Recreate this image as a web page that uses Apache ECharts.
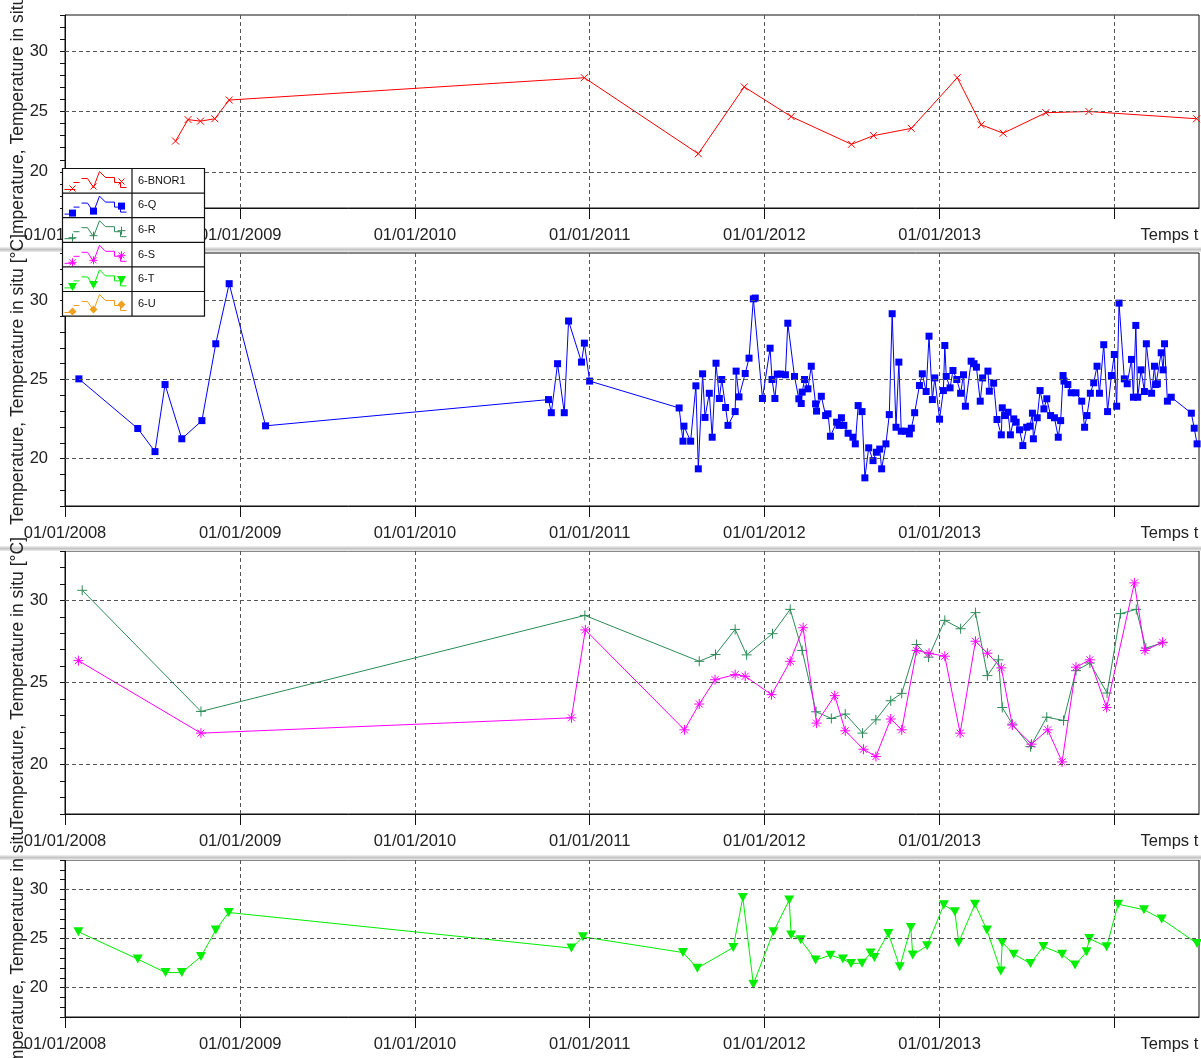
<!DOCTYPE html>
<html>
<head>
<meta charset="utf-8">
<script src="https://cdn.jsdelivr.net/npm/echarts@6/dist/echarts.min.js"></script>
<style>
html,body{margin:0;padding:0;background:#fff;}
#chart{width:1201px;height:1058px;}
</style>
</head>
<body>
<div id="chart"></div>
<script>
// ---- Data: in-situ temperature (°C) per station ----
const seriesNames = ['6-BNOR1', '6-Q', '6-R', '6-S', '6-T', '6-U'];

const xTickDates  = ['2008-01-01', '2009-01-01', '2010-01-01', '2011-01-01', '2012-01-01', '2013-01-01', '2014-01-01'];
const xLabelDates = ['2008-01-01', '2009-01-01', '2010-01-01', '2011-01-01', '2012-01-01', '2013-01-01'];
const xRange = ['2008-01-01', '2014-06-27'];
const yLabelValues = [20, 25, 30];
const yRange = [17, 33];

const bnor1 = [
  ['2008-08-19', 22.55], ['2008-09-14', 24.33], ['2008-10-10', 24.2], ['2008-11-09', 24.4], ['2008-12-09', 25.95],
  ['2010-12-21', 27.8], ['2011-08-16', 21.5], ['2011-11-20', 27.04], ['2012-02-26', 24.58], ['2012-07-01', 22.28],
  ['2012-08-16', 23.0], ['2012-11-03', 23.6], ['2013-02-07', 27.8], ['2013-03-29', 23.9], ['2013-05-14', 23.2],
  ['2013-08-11', 24.9], ['2013-11-09', 25.0], ['2014-06-22', 24.4]
];

const stationQ = [
  ['2008-01-30', 25.04], ['2008-06-01', 21.9], ['2008-07-07', 20.44], ['2008-07-28', 24.68], ['2008-09-01', 21.25],
  ['2008-10-13', 22.4], ['2008-11-11', 27.26], ['2008-12-09', 31.06], ['2009-02-23', 22.07],
  ['2010-10-07', 23.73], ['2010-10-13', 22.9], ['2010-10-26', 26.0], ['2010-11-09', 22.9], ['2010-11-18', 28.7],
  ['2010-12-15', 26.1], ['2010-12-21', 27.3], ['2011-01-01', 24.9],
  ['2011-07-07', 23.2], ['2011-07-15', 21.1], ['2011-07-17', 22.05], ['2011-07-31', 21.1], ['2011-08-11', 24.6],
  ['2011-08-16', 19.35], ['2011-08-25', 25.36], ['2011-08-30', 22.6], ['2011-09-08', 24.13], ['2011-09-14', 21.35],
  ['2011-09-22', 26.03], ['2011-09-29', 23.8], ['2011-10-04', 25.0], ['2011-10-12', 23.23], ['2011-10-17', 22.1],
  ['2011-11-01', 22.97], ['2011-11-03', 25.53], ['2011-11-09', 23.9], ['2011-11-22', 25.38], ['2011-11-30', 26.35],
  ['2011-12-09', 30.1], ['2011-12-13', 30.15], ['2011-12-28', 23.8],
  ['2012-01-13', 26.98], ['2012-01-17', 25.0], ['2012-01-23', 23.8], ['2012-01-28', 25.34], ['2012-02-04', 25.34],
  ['2012-02-14', 25.3], ['2012-02-19', 28.56], ['2012-03-04', 25.19], ['2012-03-13', 23.78], ['2012-03-18', 23.48],
  ['2012-03-20', 24.2], ['2012-03-25', 25.0], ['2012-04-01', 24.41], ['2012-04-08', 25.84], ['2012-04-17', 23.46],
  ['2012-04-19', 23.0], ['2012-04-29', 23.94], ['2012-05-08', 22.72], ['2012-05-13', 22.83], ['2012-05-18', 21.41],
  ['2012-05-31', 22.3], ['2012-06-05', 22.1], ['2012-06-10', 22.58], ['2012-06-15', 22.1], ['2012-06-24', 21.6],
  ['2012-07-04', 21.35], ['2012-07-09', 20.93], ['2012-07-15', 23.35], ['2012-07-23', 22.97], ['2012-07-29', 18.78],
  ['2012-08-06', 20.68], ['2012-08-15', 19.87], ['2012-08-22', 20.4], ['2012-08-29', 20.6], ['2012-09-02', 19.35],
  ['2012-09-11', 20.93], ['2012-09-18', 22.78], ['2012-09-24', 29.16], ['2012-10-02', 21.98], ['2012-10-08', 26.1],
  ['2012-10-13', 21.73], ['2012-10-22', 21.73], ['2012-10-30', 21.56], ['2012-11-03', 21.92], ['2012-11-10', 22.9],
  ['2012-11-20', 24.62], ['2012-11-26', 25.36], ['2012-12-04', 24.24], ['2012-12-10', 27.74], ['2012-12-17', 23.73],
  ['2012-12-22', 25.1],
  ['2013-01-01', 22.49], ['2013-01-09', 24.3], ['2013-01-12', 27.15], ['2013-01-15', 25.19], ['2013-01-23', 24.47],
  ['2013-01-29', 25.57], ['2013-02-06', 25.0], ['2013-02-14', 24.13], ['2013-02-20', 25.3], ['2013-02-24', 23.31],
  ['2013-03-08', 26.16], ['2013-03-14', 26.0], ['2013-03-19', 25.78], ['2013-03-27', 23.63], ['2013-04-01', 25.1],
  ['2013-04-12', 25.53], ['2013-04-15', 24.26], ['2013-04-24', 24.77], ['2013-05-01', 22.47], ['2013-05-10', 21.5],
  ['2013-05-12', 23.21], ['2013-05-17', 22.72], ['2013-05-24', 22.93], ['2013-05-29', 21.5], ['2013-06-05', 22.51],
  ['2013-06-10', 22.3], ['2013-06-17', 21.82], ['2013-06-24', 20.82], ['2013-07-02', 21.98], ['2013-07-09', 22.05],
  ['2013-07-14', 22.87], ['2013-07-16', 21.25], ['2013-07-24', 22.58], ['2013-07-30', 24.3], ['2013-08-07', 23.14],
  ['2013-08-13', 23.78], ['2013-08-21', 22.72], ['2013-08-29', 22.58], ['2013-09-06', 21.35], ['2013-09-11', 22.4],
  ['2013-09-16', 25.25], ['2013-09-18', 24.9], ['2013-09-26', 24.68], ['2013-10-03', 24.16], ['2013-10-13', 24.16],
  ['2013-10-25', 23.63], ['2013-10-31', 21.98], ['2013-11-05', 22.72], ['2013-11-12', 24.13], ['2013-11-19', 24.79],
  ['2013-11-26', 25.84], ['2013-12-01', 24.13], ['2013-12-10', 27.2], ['2013-12-18', 22.97], ['2013-12-26', 25.25],
  ['2014-01-01', 26.58], ['2014-01-06', 23.31], ['2014-01-11', 29.83], ['2014-01-22', 25.04], ['2014-01-28', 24.73],
  ['2014-02-06', 26.27], ['2014-02-10', 23.88], ['2014-02-15', 28.42], ['2014-02-19', 23.88], ['2014-02-26', 25.61],
  ['2014-03-05', 24.24], ['2014-03-09', 27.26], ['2014-03-20', 24.13], ['2014-03-26', 25.84], ['2014-03-29', 24.68],
  ['2014-04-01', 24.73], ['2014-04-09', 26.69], ['2014-04-13', 25.61], ['2014-04-16', 27.26], ['2014-04-22', 23.63],
  ['2014-04-30', 23.88], ['2014-06-11', 22.87], ['2014-06-17', 21.92], ['2014-06-23', 20.93]
];

const stationR = [
  ['2008-02-06', 30.61], ['2008-10-11', 23.24], ['2010-12-22', 29.08], ['2011-08-18', 26.29], ['2011-09-21', 26.7],
  ['2011-11-01', 28.23], ['2011-11-25', 26.68], ['2012-01-18', 27.97], ['2012-02-24', 29.45], ['2012-03-20', 26.95],
  ['2012-04-18', 23.22], ['2012-05-20', 22.81], ['2012-06-18', 23.08], ['2012-07-24', 21.92], ['2012-08-21', 22.73],
  ['2012-09-21', 23.89], ['2012-10-14', 24.34], ['2012-11-14', 27.31], ['2012-12-09', 26.54], ['2013-01-12', 28.78],
  ['2013-02-14', 28.27], ['2013-03-17', 29.25], ['2013-04-11', 25.42], ['2013-05-04', 26.38], ['2013-05-12', 23.48],
  ['2013-06-02', 22.47], ['2013-07-10', 21.1], ['2013-08-13', 22.89], ['2013-09-17', 22.69], ['2013-10-13', 25.72],
  ['2013-11-11', 26.19], ['2013-12-17', 24.36], ['2014-01-14', 29.19], ['2014-02-16', 29.45], ['2014-03-08', 27.09],
  ['2014-04-12', 27.42]
];

const stationS = [
  ['2008-01-29', 26.33], ['2008-10-11', 21.92], ['2010-11-24', 22.85], ['2010-12-23', 28.2], ['2011-07-18', 22.12],
  ['2011-08-18', 23.69], ['2011-09-20', 25.17], ['2011-11-01', 25.48], ['2011-11-22', 25.38], ['2012-01-16', 24.26],
  ['2012-02-24', 26.29], ['2012-03-22', 28.33], ['2012-04-19', 22.53], ['2012-05-27', 24.2], ['2012-06-18', 22.06],
  ['2012-07-26', 20.94], ['2012-08-21', 20.5], ['2012-09-21', 22.78], ['2012-10-14', 22.12], ['2012-11-14', 26.95],
  ['2012-12-10', 26.78], ['2013-01-12', 26.6], ['2013-02-13', 21.92], ['2013-03-17', 27.51], ['2013-04-11', 26.78],
  ['2013-05-10', 25.89], ['2013-06-02', 22.41], ['2013-07-12', 21.25], ['2013-08-15', 22.12], ['2013-09-14', 20.17],
  ['2013-10-13', 25.93], ['2013-11-11', 26.38], ['2013-12-16', 23.48], ['2014-02-12', 31.06], ['2014-03-06', 26.95],
  ['2014-04-12', 27.45]
];

const stationT = [
  ['2008-01-29', 25.68], ['2008-06-01', 22.9], ['2008-07-29', 21.53], ['2008-09-01', 21.53], ['2008-10-11', 23.16],
  ['2008-11-11', 25.86], ['2008-12-08', 27.65], ['2010-11-24', 24.02], ['2010-12-18', 25.17], ['2011-07-15', 23.57],
  ['2011-08-14', 21.98], ['2011-10-28', 24.08], ['2011-11-17', 29.18], ['2011-12-09', 20.35], ['2012-01-20', 25.68],
  ['2012-02-22', 28.92], ['2012-02-26', 25.35], ['2012-03-17', 24.87], ['2012-04-17', 22.8], ['2012-05-18', 23.3],
  ['2012-06-13', 22.9], ['2012-06-30', 22.45], ['2012-07-23', 22.49], ['2012-08-10', 23.51], ['2012-08-18', 23.06],
  ['2012-09-16', 25.51], ['2012-10-10', 22.11], ['2012-11-02', 26.12], ['2012-11-06', 23.31], ['2012-12-06', 24.26],
  ['2013-01-10', 28.44], ['2013-02-02', 27.72], ['2013-02-10', 24.6], ['2013-03-16', 28.5], ['2013-04-10', 25.86],
  ['2013-05-09', 21.7], ['2013-05-12', 24.6], ['2013-06-05', 23.4], ['2013-07-10', 22.45], ['2013-08-06', 24.18],
  ['2013-09-14', 23.4], ['2013-10-11', 22.29], ['2013-11-04', 23.64], ['2013-11-10', 25.0], ['2013-12-16', 24.15],
  ['2014-01-09', 28.5], ['2014-03-04', 27.93], ['2014-04-10', 26.98], ['2014-06-23', 24.49]
];

const stationU = [];

// ---- Layout ----
const FONT = "'Liberation Sans', Arial, sans-serif";
const TEXT = '#222';
const panels = [
  { top: 15,  height: 193 },
  { top: 253, height: 253 },
  { top: 551, height: 263 },
  { top: 860, height: 157 }
];
const LEFT = 65, RIGHT = 2;

// 'YYYY-MM-DD' -> local timestamp
const ts = s => { const p = s.split('-').map(Number); return new Date(p[0], p[1] - 1, p[2]).getTime(); };
const pad2 = n => (n < 10 ? '0' : '') + n;
const toPoints = arr => arr.map(d => [ts(d[0]), d[1]]);

const palette = {
  '6-BNOR1': '#ff0000',
  '6-Q': '#0000ff',
  '6-R': '#2e8b57',
  '6-S': '#ff00ff',
  '6-T': '#00ee00',
  '6-U': '#f0a020'
};

const SYM_X    = 'path://M0,0 L2,2 M2,0 L0,2';
const SYM_PLUS = 'path://M0,1 L2,1 M1,0 L1,2';
const SYM_STAR = 'path://M0,1 L2,1 M1,0 L1,2 M0.3,0.3 L1.7,1.7 M1.7,0.3 L0.3,1.7';

const grids = panels.map(p => ({
  left: LEFT, right: RIGHT, top: p.top, height: p.height,
  show: true, borderColor: '#111', borderWidth: 1, backgroundColor: 'rgba(0,0,0,0)'
}));

const xAxes = panels.map((p, i) => ({
  type: 'value', gridIndex: i,
  min: ts(xRange[0]), max: ts(xRange[1]),
  axisLine: { show: true, onZero: false, lineStyle: { color: '#111', width: 1 } },
  axisTick: { show: true, inside: false, length: 11, customValues: xTickDates.map(ts), lineStyle: { color: '#111' } },
  axisLabel: {
    show: true, customValues: xLabelDates.map(ts), margin: 19,
    fontSize: 16.5, fontFamily: FONT, color: TEXT, hideOverlap: false,
    formatter: v => { const d = new Date(v); return pad2(d.getDate()) + '/' + pad2(d.getMonth() + 1) + '/' + d.getFullYear(); }
  },
  splitLine: { show: true, lineStyle: { color: '#555', width: 1, type: [4, 3] } }
}));

const yAxes = panels.map((p, i) => ({
  type: 'value', gridIndex: i, min: yRange[0], max: yRange[1], interval: 1,
  axisLine: { show: true, onZero: false, lineStyle: { color: '#111', width: 1 } },
  axisTick: { show: true, inside: false, length: 5, lineStyle: { color: '#111' } },
  axisLabel: { show: true, customValues: yLabelValues, margin: 17, fontSize: 16.5, fontFamily: FONT, color: TEXT },
  splitLine: { show: false }
}));

function dataSeries(name, data, gridIdx, symbol, size, opts) {
  const color = palette[name];
  return Object.assign({
    name, type: 'line', data: toPoints(data),
    xAxisIndex: gridIdx, yAxisIndex: gridIdx,
    symbol, symbolSize: size, showAllSymbol: true,
    lineStyle: { color, width: 1 },
    itemStyle: { color, borderColor: color, borderWidth: 1 },
    emphasis: { disabled: true },
    z: 3
  }, opts || {});
}

// horizontal dashed reference lines at the labelled temperatures
function gridLines(gridIdx) {
  return {
    type: 'line', data: [], xAxisIndex: gridIdx, yAxisIndex: gridIdx, z: 1, silent: true,
    markLine: {
      silent: true, symbol: ['none', 'none'], label: { show: false }, animation: false,
      lineStyle: { color: '#555', width: 1, type: [4, 3] },
      emphasis: { disabled: true },
      data: yLabelValues.map(v => ({ yAxis: v }))
    }
  };
}

const series = [
  gridLines(0), gridLines(1), gridLines(2), gridLines(3),
  dataSeries('6-BNOR1', bnor1, 0, SYM_X, 7),
  dataSeries('6-Q', stationQ, 1, 'rect', 7, { itemStyle: { color: palette['6-Q'], borderWidth: 0 } }),
  dataSeries('6-R', stationR, 2, SYM_PLUS, 10),
  dataSeries('6-S', stationS, 2, SYM_STAR, 10, { z: 4 }),
  dataSeries('6-T', stationT, 3, 'triangle', [10, 9], { symbolRotate: 180, itemStyle: { color: palette['6-T'], borderWidth: 0 } }),
  dataSeries('6-U', stationU, 3, 'diamond', 8)
];

// ---- Decorations: panel separators, axis titles, legend table ----
const graphics = [];

[247, 546, 855].forEach(y => {
  graphics.push({
    type: 'rect', left: 0, top: y, z: 1,
    shape: { width: 1201, height: 5 },
    style: { fill: new echarts.graphic.LinearGradient(0, 0, 0, 1, [
      { offset: 0, color: '#f2f2f2' }, { offset: 0.5, color: '#c4c4c4' }, { offset: 1, color: '#ececec' }
    ]) }
  });
});

const NAME_FONT = '17.5px ' + FONT;
const yName = 'Temperature, Temperature in situ [°C]';
const yNameParts = [
  { text: 'mperature, Temperature in situ [°C]', x: 18, y: 234, align: 'left' },
  { text: yName, x: 18, y: (panels[1].top + panels[1].height / 2), align: 'center' },
  { text: yName, x: 18, y: (panels[2].top + panels[2].height / 2), align: 'center' },
  { text: 'Temperature, Temperature in situ', x: 18, y: 826, align: 'right' }
];
yNameParts.forEach(p => {
  graphics.push({
    type: 'text', x: p.x, y: p.y, rotation: Math.PI / 2, z: 5,
    style: { text: p.text, fill: TEXT, font: NAME_FONT, textAlign: p.align, textVerticalAlign: 'middle' }
  });
});

panels.forEach(p => {
  graphics.push({
    type: 'text', x: 1140.5, y: p.top + p.height + 27, z: 5,
    style: { text: 'Temps t', fill: TEXT, font: '16.5px ' + FONT, textAlign: 'left', textVerticalAlign: 'middle' }
  });
});

// legend table
const LEG = { x: 62.5, y: 168.5, w: 142, rowH: 24.6, split: 69.5 };
const legendMarkers = {
  '6-BNOR1': 'x', '6-Q': 'rect', '6-R': 'plus', '6-S': 'star', '6-T': 'tri', '6-U': 'diamond'
};
function markerShapes(kind, cx, cy, color) {
  const s = { stroke: color, lineWidth: 1 };
  const out = [];
  const seg = (x1, y1, x2, y2) => out.push({ type: 'line', z: 21, shape: { x1: cx + x1, y1: cy + y1, x2: cx + x2, y2: cy + y2 }, style: s });
  if (kind === 'x') { seg(-3, -3, 3, 3); seg(3, -3, -3, 3); }
  if (kind === 'plus') { seg(-4, 0, 4, 0); seg(0, -4, 0, 4); }
  if (kind === 'star') { seg(-4, 0, 4, 0); seg(0, -4, 0, 4); seg(-3, -3, 3, 3); seg(3, -3, -3, 3); }
  if (kind === 'rect') out.push({ type: 'rect', z: 21, shape: { x: cx - 3.5, y: cy - 3.5, width: 7, height: 7 }, style: { fill: color } });
  if (kind === 'tri') out.push({ type: 'polygon', z: 21, shape: { points: [[cx - 4.5, cy - 4], [cx + 4.5, cy - 4], [cx, cy + 4]] }, style: { fill: color } });
  if (kind === 'diamond') out.push({ type: 'polygon', z: 21, shape: { points: [[cx, cy - 4], [cx + 4, cy], [cx, cy + 4], [cx - 4, cy]] }, style: { fill: color } });
  return out;
}
const legH = LEG.rowH * seriesNames.length;
graphics.push({ type: 'rect', z: 20, shape: { x: LEG.x, y: LEG.y, width: LEG.w, height: legH }, style: { fill: '#fff', stroke: '#111', lineWidth: 1.2 } });
graphics.push({ type: 'line', z: 21, shape: { x1: LEG.x + LEG.split, y1: LEG.y, x2: LEG.x + LEG.split, y2: LEG.y + legH }, style: { stroke: '#111', lineWidth: 1.2 } });
seriesNames.forEach((name, i) => {
  const top = LEG.y + i * LEG.rowH;
  const color = palette[name];
  if (i > 0) graphics.push({ type: 'line', z: 21, shape: { x1: LEG.x, y1: top, x2: LEG.x + LEG.w, y2: top }, style: { stroke: '#111', lineWidth: 1.2 } });
  const ox = LEG.x, oy = top;
  const pts = (arr) => arr.map(p => [ox + p[0], oy + p[1]]);
  graphics.push({ type: 'polyline', z: 21, shape: { points: pts([[2, 21], [13, 21]]) }, style: { stroke: color, lineWidth: 1, fill: null } });
  graphics.push({ type: 'polyline', z: 21, shape: { points: pts([[11, 14], [17, 14]]) }, style: { stroke: color, lineWidth: 1, fill: null } });
  graphics.push({ type: 'polyline', z: 21, shape: { points: pts([[19, 10], [25, 10], [31, 19], [37, 3], [43, 9], [52, 9], [52, 14], [58, 14], [58, 19], [64, 19]]) }, style: { stroke: color, lineWidth: 1, fill: null } });
  [[10, 20], [31, 18], [59, 13]].forEach(m => markerShapes(legendMarkers[name], ox + m[0], oy + m[1], color).forEach(g => graphics.push(g)));
  graphics.push({ type: 'text', z: 21, x: LEG.x + LEG.split + 6, y: top + LEG.rowH / 2,
    style: { text: name, fill: '#111', font: '11px ' + FONT, textAlign: 'left', textVerticalAlign: 'middle' } });
});

const chart = echarts.init(document.getElementById('chart'), null, { renderer: 'canvas', width: 1201, height: 1058 });
chart.setOption({
  animation: false,
  backgroundColor: '#fff',
  grid: grids,
  xAxis: xAxes,
  yAxis: yAxes,
  series,
  graphic: { elements: graphics }
});
</script>
</body>
</html>
